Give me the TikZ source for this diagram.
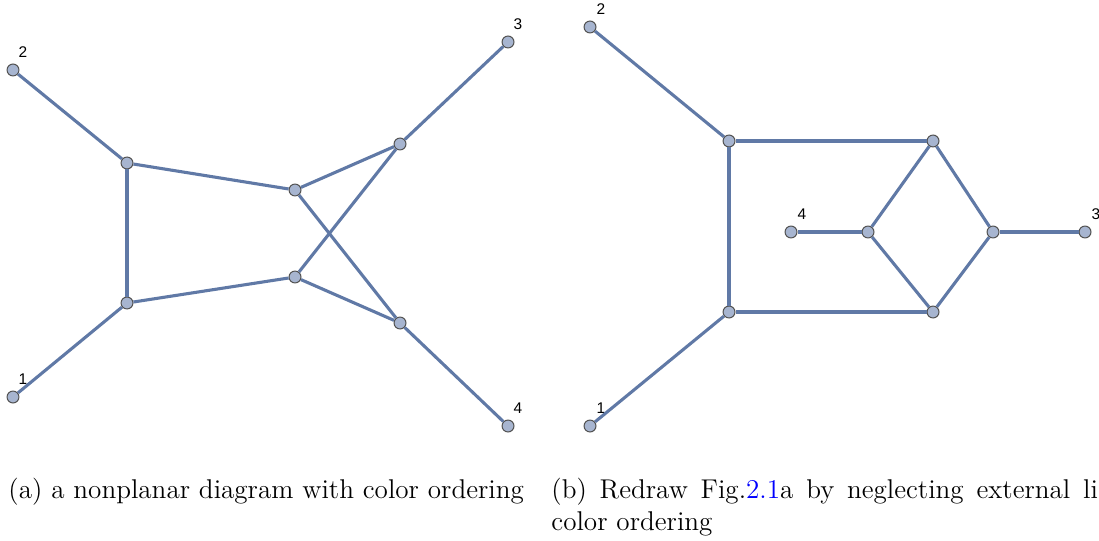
\documentclass[tikz,border=0pt]{standalone}
\usepackage{fontspec}
\usepackage{xcolor}
\usepackage{tikz}
\usetikzlibrary{positioning, calc}
\newfontfamily\labfont{Liberation Sans}
\definecolor{edgeblue}{RGB}{96,121,166}
\definecolor{vertfill}{RGB}{167,181,208}
\definecolor{vertline}{RGB}{85,85,85}

\begin{document}
\begin{tikzpicture}[x=0.42pt, y=-0.42pt,
    vert/.style={circle, draw=vertline, fill=vertfill, line width=0.45pt, inner sep=0pt, minimum size=5pt},
    edge/.style={draw=edgeblue, line width=1.3pt},
    lab/.style={font=\labfont\fontsize{6.5}{7}\selectfont, inner sep=0pt},
    captext/.style={font=\fontsize{11.4}{13.6}\selectfont, anchor=base west, inner sep=0pt}]
  \useasboundingbox (0,0) rectangle (1099,540);
  % (a) nonplanar diagram
  \foreach \n/\x/\y in {a1/127/163, a2/127/303, a3/295/190, a4/295/277, a5/400/144, a6/400/323}
    \node[vert] (\n) at (\x,\y) {};
  \foreach \n/\x/\y/\t in {ax1/13/397/1, ax2/13/70/2, ax3/508/42/3, ax4/508/426/4} {
    \node[vert] (\n) at (\x,\y) {};
    \node[lab] (\n l) at (\x+10,\y-18) {\t};
  }
  \foreach \p/\q in {ax2/a1, ax1/a2, a1/a2, a1/a3, a2/a4, a3/a5, a3/a6, a4/a5, a4/a6, a5/ax3, a6/ax4}
    \draw[edge] (\p) -- (\q);
  % (b) redrawn diagram
  \foreach \n/\x/\y in {b1/729/141, b2/729/312, b3/933/141, b4/933/312, b5/868/232, b6/993/232}
    \node[vert] (\n) at (\x,\y) {};
  \foreach \n/\x/\y/\t in {bx1/590/426/1, bx2/590/27/2, bx3/1085/232/3, bx4/791/232/4} {
    \node[vert] (\n) at (\x,\y) {};
    \node[lab] (\n l) at (\x+11,\y-18) {\t};
  }
  \foreach \p/\q in {bx2/b1, bx1/b2, b1/b2, b1/b3, b2/b4, b3/b5, b3/b6, b4/b5, b4/b6, b5/bx4, b6/bx3}
    \draw[edge] (\p) -- (\q);
  % captions
  \node[captext] (capa) at (8,498) {(a) a nonplanar diagram with color ordering};
  \node[captext] (capb) at (551,498) {\makebox[229.5pt][s]{(b) Redraw Fig.\textcolor{blue}{2.1}a by neglecting external li}};
  \node[captext] (capc) at (551,530) {color ordering};
\end{tikzpicture}
\end{document}
